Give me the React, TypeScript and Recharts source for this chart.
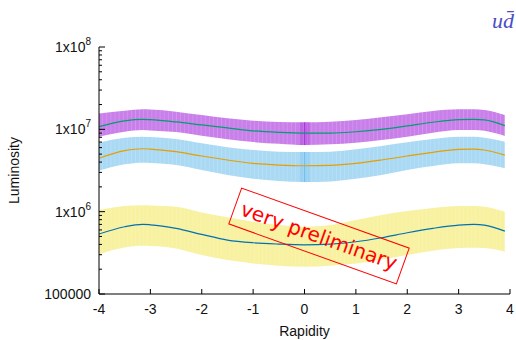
import React from 'react';
import { ComposedChart, Area, Line, XAxis, YAxis, ReferenceArea, ReferenceLine } from 'recharts';

// rapidity grid the bands were read at
const rapidity = [-4, -3.5, -3.15, -3, -2.5, -2, -1.5, -1, -0.5, 0, 0.5, 1, 1.5, 2, 2.5, 3, 3.3, 3.5, 3.9];

// top band (purple) with green central line
const greenCentral = [1.08e7, 1.27e7, 1.32e7, 1.31e7, 1.23e7, 1.13e7, 1.04e7, 9.6e6, 9.2e6, 9.0e6, 9.0e6, 9.35e6, 1.0e7, 1.1e7, 1.22e7, 1.31e7, 1.32e7, 1.3e7, 1.11e7];
const purpleLow = [8.13e6, 9.35e6, 9.8e6, 9.7e6, 9.27e6, 8.36e6, 7.56e6, 7.0e6, 6.68e6, 6.44e6, 6.58e6, 6.87e6, 7.41e6, 8.13e6, 9.1e6, 9.8e6, 9.8e6, 9.6e6, 8.3e6];
const purpleHigh = [1.56e7, 1.68e7, 1.75e7, 1.74e7, 1.64e7, 1.49e7, 1.36e7, 1.27e7, 1.23e7, 1.22e7, 1.24e7, 1.3e7, 1.4e7, 1.53e7, 1.67e7, 1.75e7, 1.75e7, 1.72e7, 1.49e7];

// middle band (light blue) with orange central line
const orangeCentral = [4.45e6, 5.5e6, 5.81e6, 5.76e6, 5.35e6, 4.74e6, 4.24e6, 3.86e6, 3.68e6, 3.61e6, 3.65e6, 3.86e6, 4.24e6, 4.74e6, 5.26e6, 5.71e6, 5.76e6, 5.61e6, 4.87e6];
const blueLow = [3.14e6, 3.76e6, 3.93e6, 3.9e6, 3.68e6, 3.2e6, 2.79e6, 2.51e6, 2.35e6, 2.29e6, 2.33e6, 2.51e6, 2.79e6, 3.2e6, 3.58e6, 3.86e6, 3.86e6, 3.76e6, 3.36e6];
const blueHigh = [6.87e6, 7.9e6, 8.13e6, 8.05e6, 7.62e6, 6.76e6, 6.04e6, 5.61e6, 5.35e6, 5.3e6, 5.35e6, 5.71e6, 6.27e6, 6.95e6, 7.62e6, 8.13e6, 8.13e6, 7.9e6, 7.06e6];

// bottom band (yellow) with blue central line
const blueCentral = [5.35e5, 6.56e5, 7.01e5, 6.93e5, 6.27e5, 5.3e5, 4.52e5, 4.19e5, 4.04e5, 3.96e5, 4.04e5, 4.31e5, 4.82e5, 5.55e5, 6.27e5, 6.87e5, 7.01e5, 6.87e5, 5.81e5];
const yellowLow = [3.05e5, 3.68e5, 3.85e5, 3.82e5, 3.58e5, 2.97e5, 2.58e5, 2.35e5, 2.2e5, 2.14e5, 2.2e5, 2.35e5, 2.63e5, 2.97e5, 3.35e5, 3.61e5, 3.64e5, 3.61e5, 3.26e5];
const yellowHigh = [1.045e6, 1.17e6, 1.2e6, 1.19e6, 1.15e6, 9.8e5, 8.53e5, 7.54e5, 6.87e5, 6.56e5, 6.87e5, 7.9e5, 9.1e5, 1.016e6, 1.11e6, 1.17e6, 1.17e6, 1.15e6, 9.97e5];

const xTicks = [-4, -3, -2, -1, 0, 1, 2, 3, 4];
const yDecades = [1e5, 1e6, 1e7, 1e8];
const yDecadeLabels = [['100000', ''], ['1x10', '6'], ['1x10', '7'], ['1x10', '8']];

const yMinor: number[] = [];
yDecades.slice(0, 3).forEach((d) => {
  for (let m = 2; m <= 9; m++) yMinor.push(m * d);
});
const yAllTicks = [...yDecades, ...yMinor].sort((a, b) => a - b);

const rows = rapidity.map((x, i) => ({
  x,
  purple: [purpleLow[i], purpleHigh[i]],
  green: greenCentral[i],
  blue: [blueLow[i], blueHigh[i]],
  orange: orangeCentral[i],
  yellow: [yellowLow[i], yellowHigh[i]],
  navy: blueCentral[i],
}));
const i0 = rapidity.indexOf(0);

const FONT = 'Liberation Sans, Arial, sans-serif';

const BottomTick = (props: any) => {
  const { x, y, payload } = props;
  return (
    <g>
      <line x1={x} x2={x} y1={y} y2={y - 5} stroke="#000" />
      <text x={x} y={y + 20} textAnchor="middle" fontSize={14} fontFamily={FONT} fill="#111">
        {payload.value}
      </text>
    </g>
  );
};

const TopTick = (props: any) => {
  const { x, y } = props;
  return <line x1={x} x2={x} y1={y} y2={y + 5} stroke="#000" />;
};

const LeftTick = (props: any) => {
  const { x, y, payload } = props;
  const k = yDecades.indexOf(payload.value);
  if (k < 0) return <line x1={x} x2={x + 3} y1={y} y2={y} stroke="#000" />;
  const [base, exp] = yDecadeLabels[k];
  return (
    <g>
      <line x1={x} x2={x + 6} y1={y} y2={y} stroke="#000" />
      <text x={x - 8} y={y + 5} textAnchor="end" fontSize={14} fontFamily={FONT} fill="#111">
        {base}
        {exp && (
          <tspan fontSize={10} dy={-7}>
            {exp}
          </tspan>
        )}
      </text>
    </g>
  );
};

const RightTick = (props: any) => {
  const { x, y, payload } = props;
  const len = yDecades.includes(payload.value) ? 6 : 3;
  return <line x1={x} x2={x - len} y1={y} y2={y} stroke="#000" />;
};

function stripes(id: string, color: string) {
  return (
    <pattern id={id} patternUnits="userSpaceOnUse" x={99} y={0} width={4.1} height={8}>
      <rect width={4.1} height={8} fill={color} />
      <rect x={3.4} width={0.6} height={8} fill="#fff" fillOpacity={0.22} />
    </pattern>
  );
}

export default function App() {
  return (
    <div style={{ position: 'absolute', left: 0, top: 0, width: 516, height: 340, background: '#fff' }}>
      <ComposedChart width={516} height={340} data={rows} margin={{ top: 47, right: 6, bottom: 0, left: 0 }}>
        <defs>
          {stripes('stripePurple', '#c97fe9')}
          {stripes('stripeBlue', '#aad9f4')}
          {stripes('stripeYellow', '#f7f1a0')}
        </defs>
        <XAxis
          xAxisId="b"
          type="number"
          dataKey="x"
          domain={[-4, 4]}
          ticks={xTicks}
          interval={0}
          allowDataOverflow
          height={46}
          stroke="#000"
          tickLine={false}
          tickSize={0}
          tickMargin={0}
          tick={<BottomTick />}
          label={{ value: 'Rapidity', position: 'insideBottom', offset: 4, fontSize: 14, fontFamily: FONT, fill: '#111' }}
        />
        <XAxis
          xAxisId="t"
          orientation="top"
          type="number"
          dataKey="x"
          domain={[-4, 4]}
          ticks={xTicks}
          interval={0}
          allowDataOverflow
          height={0}
          stroke="#000"
          tickLine={false}
          tickSize={0}
          tickMargin={0}
          tick={<TopTick />}
        />
        <YAxis
          yAxisId="l"
          scale="log"
          domain={[1e5, 1e8]}
          ticks={yAllTicks}
          interval={0}
          allowDataOverflow
          width={99}
          stroke="#000"
          tickLine={false}
          tickSize={0}
          tickMargin={0}
          tick={<LeftTick />}
          label={{
            value: 'Luminosity',
            angle: -90,
            position: 'insideLeft',
            offset: 14,
            fontSize: 14,
            fontFamily: FONT,
            fill: '#111',
            style: { textAnchor: 'middle' },
          }}
        />
        <YAxis
          yAxisId="r"
          orientation="right"
          scale="log"
          domain={[1e5, 1e8]}
          ticks={yAllTicks}
          interval={0}
          allowDataOverflow
          width={0}
          stroke="#000"
          tickLine={false}
          tickSize={0}
          tickMargin={0}
          tick={<RightTick />}
        />

        <Area xAxisId="b" yAxisId="l" type="monotone" dataKey="purple" stroke="none" fill="url(#stripePurple)" fillOpacity={1} isAnimationActive={false} />
        <Area xAxisId="b" yAxisId="l" type="monotone" dataKey="blue" stroke="none" fill="url(#stripeBlue)" fillOpacity={1} isAnimationActive={false} />
        <Area xAxisId="b" yAxisId="l" type="monotone" dataKey="yellow" stroke="none" fill="url(#stripeYellow)" fillOpacity={1} isAnimationActive={false} />

        <ReferenceArea xAxisId="b" yAxisId="l" x1={-0.1} x2={0.1} y1={purpleLow[i0]} y2={purpleHigh[i0]} fill="#9400d3" fillOpacity={0.2} stroke="none" />
        <ReferenceLine xAxisId="b" yAxisId="l" segment={[{ x: 0, y: purpleLow[i0] }, { x: 0, y: purpleHigh[i0] }]} stroke="#9400d3" strokeOpacity={0.45} />
        <ReferenceArea xAxisId="b" yAxisId="l" x1={-0.1} x2={0.1} y1={blueLow[i0]} y2={blueHigh[i0]} fill="#56b4e9" fillOpacity={0.2} stroke="none" />
        <ReferenceLine xAxisId="b" yAxisId="l" segment={[{ x: 0, y: blueLow[i0] }, { x: 0, y: blueHigh[i0] }]} stroke="#56b4e9" strokeOpacity={0.6} />

        <Line xAxisId="b" yAxisId="l" type="monotone" dataKey="green" stroke="#009e73" strokeWidth={1.2} dot={false} isAnimationActive={false} />
        <Line xAxisId="b" yAxisId="l" type="monotone" dataKey="orange" stroke="#e69f00" strokeWidth={1.2} dot={false} isAnimationActive={false} />
        <Line xAxisId="b" yAxisId="l" type="monotone" dataKey="navy" stroke="#0072b2" strokeWidth={1.2} dot={false} isAnimationActive={false} />
      </ComposedChart>

      <svg width={516} height={340} style={{ position: 'absolute', left: 0, top: 0, pointerEvents: 'none' }}>
        <text x={514} y={28} textAnchor="end" fontSize={22} fontStyle="italic" fontFamily="Liberation Serif, serif" fill="#4d4dc6">
          {'ud\u0304'}
        </text>
        <g transform="translate(319 236) rotate(19.7)">
          <rect x={-89} y={-19} width={178} height={38} fill="none" stroke="#ff0000" strokeWidth={1} />
          <text x={0} y={7} textAnchor="middle" fontSize={20} fontFamily="DejaVu Sans, sans-serif" fill="#ff0000">
            very preliminary
          </text>
        </g>
      </svg>
    </div>
  );
}
